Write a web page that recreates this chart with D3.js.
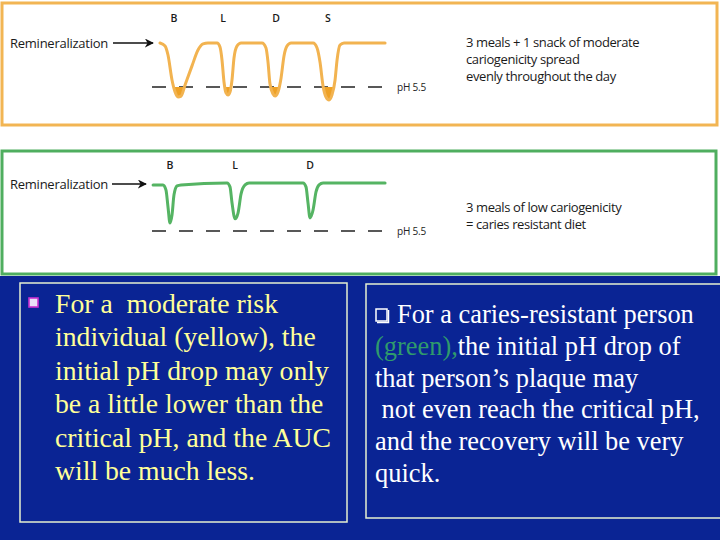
<!DOCTYPE html>
<html>
<head>
<meta charset="utf-8">
<script src="https://cdn.jsdelivr.net/npm/d3@7"></script>
<style>
  body { margin: 0; background: #ffffff; }
  svg { display: block; }
</style>
</head>
<body>
<script>
// pH curves, time in hours from first meal window, pH
const hoursYellow = [0.6, 0.98, 1.2, 1.5, 1.73, 1.95, 2.18, 2.48, 3.0, 3.45, 3.83, 4.2, 4.88,
  5.1, 5.25, 5.4, 5.55, 5.7, 5.85, 6.0, 6.15, 6.38, 6.68, 8.25,
  8.55, 8.7, 8.85, 9.08, 9.23, 9.45, 9.68, 9.9, 10.13, 10.43, 12.08,
  12.38, 12.6, 12.83, 13.05, 13.28, 13.5, 13.73, 13.88, 14.1, 14.4, 17.48];
const phYellow = [7.0, 6.9, 6.59, 5.74, 5.33, 5.16, 5.19, 5.57, 6.22, 6.76, 6.97, 7.0, 7.0,
  6.86, 6.42, 5.67, 5.3, 5.23, 5.33, 5.74, 6.49, 6.9, 7.0, 7.0,
  6.83, 6.35, 5.6, 5.26, 5.19, 5.33, 5.81, 6.56, 6.9, 7.0, 7.0,
  6.83, 6.35, 5.53, 5.16, 5.06, 5.23, 5.74, 6.42, 6.93, 7.0, 7.0];

const hoursGreen = [0.08, 0.83, 1.05, 1.2, 1.35, 1.5, 1.65, 1.88, 2.18, 5.63,
  5.85, 6.0, 6.23, 6.45, 6.68, 6.98, 7.28, 11.33,
  11.55, 11.7, 11.85, 12.08, 12.3, 12.53, 12.83, 17.48];
const phGreen = [6.94, 6.94, 6.78, 6.25, 5.75, 6.0, 6.63, 6.91, 6.94, 7.0,
  6.88, 6.38, 5.88, 6.06, 6.66, 6.94, 7.0, 7.0,
  6.88, 6.38, 5.91, 6.16, 6.72, 6.94, 7.0, 7.0];

const mealsYellow = ["B", "L", "D", "S"];
const mealHoursYellow = [1.65, 5.33, 9.3, 13.2];
const mealsGreen = ["B", "L", "D"];
const mealHoursGreen = [1.35, 6.23, 11.85];

const criticalPH = 5.5;
const restPH = 7.0;
const hourDomain = [0, 18];

const noteYellow = ["3 meals + 1 snack of moderate", "cariogenicity spread", "evenly throughout the day"];
const noteGreen = ["3 meals of low cariogenicity", "= caries resistant diet"];

const leftLines = ["For a  moderate risk", "individual (yellow), the", "initial pH drop may only",
  "be a little lower than the", "critical pH, and the AUC", "will be much less."];
const rightLines = ["For a caries-resistant person", "the initial pH drop of", "that person\u2019s plaque may",
  " not even reach the critical pH,", "and the recovery will be very", "quick."];

const W = 720, H = 540;
const sans = "'Open Sans', sans-serif";
const serif = "'Liberation Serif', 'Times New Roman', serif";

var svg = d3.select("body").append("svg")
            .attr("width", W)
            .attr("height", H);

svg.append("rect").attr("x", 0).attr("y", 0).attr("width", W).attr("height", 276).attr("fill", "#ffffff");
svg.append("rect").attr("x", 0).attr("y", 276).attr("width", W).attr("height", H - 276).attr("fill", "#0a2494");

var defs = svg.append("defs");
defs.append("marker")
    .attr("id", "arrow")
    .attr("viewBox", "0 0 10 10")
    .attr("refX", 9).attr("refY", 5)
    .attr("markerWidth", 9).attr("markerHeight", 9)
    .attr("markerUnits", "userSpaceOnUse")
    .attr("orient", "auto")
  .append("path")
    .attr("d", "M0,0 L10,5 L0,10 L3,5 Z")
    .attr("fill", "#111");

let x = d3.scaleLinear().domain(hourDomain).range([152, 392]);

function draw_panel(cfg) {
  let y = d3.scaleLinear().domain([criticalPH, restPH]).range([cfg.yCrit, cfg.yRest]);
  let g = svg.append("g");

  g.append("rect")
   .attr("x", cfg.box[0]).attr("y", cfg.box[1])
   .attr("width", cfg.box[2]).attr("height", cfg.box[3])
   .attr("fill", "none")
   .attr("stroke", cfg.border)
   .attr("stroke-width", 3);

  g.append("text")
   .attr("x", 10).attr("y", cfg.labelY)
   .attr("font-family", sans).attr("font-size", 13)
   .attr("letter-spacing", -0.25)
   .attr("fill", "#1a1a1a")
   .text("Remineralization");

  g.append("line")
   .attr("x1", cfg.arrow[0]).attr("x2", cfg.arrow[1])
   .attr("y1", cfg.arrowY).attr("y2", cfg.arrowY)
   .attr("stroke", "#111").attr("stroke-width", 1.3)
   .attr("marker-end", "url(#arrow)");

  g.selectAll("text.meal")
   .data(cfg.meals)
   .enter().append("text")
   .attr("class", "meal")
   .attr("x", (d, i) => x(cfg.mealHours[i]))
   .attr("y", cfg.mealY)
   .attr("text-anchor", "middle")
   .attr("font-family", sans).attr("font-size", 10.5).attr("font-weight", 600)
   .attr("fill", "#1a1a1a")
   .text(d => d);

  // critical pH line
  g.append("line")
   .attr("x1", x(hourDomain[0])).attr("x2", x(hourDomain[1]))
   .attr("y1", y(criticalPH)).attr("y2", y(criticalPH))
   .attr("stroke", "#222").attr("stroke-width", 1.3)
   .attr("stroke-dasharray", "14,13");

  g.append("text")
   .attr("x", x(hourDomain[1]) + 5).attr("y", y(criticalPH) + 4)
   .attr("font-family", sans).attr("font-size", 10)
   .attr("letter-spacing", -0.2)
   .attr("fill", "#222")
   .text("pH 5.5");

  let pts = cfg.hours.map((h, i) => [h, cfg.ph[i]]);
  let curve = d3.curveMonotoneX;

  if (cfg.fill) {
    let clipId = "clip-" + cfg.name;
    defs.append("clipPath").attr("id", clipId)
      .append("rect")
      .attr("x", 0).attr("y", y(criticalPH))
      .attr("width", W).attr("height", 60);

    let area = d3.area()
                 .x(d => x(d[0]))
                 .y0(y(criticalPH))
                 .y1(d => y(d[1]))
                 .curve(curve);
    g.append("path")
     .datum(pts)
     .attr("d", area)
     .attr("fill", cfg.fill)
     .attr("clip-path", "url(#" + clipId + ")");
  }

  let line = d3.line()
               .x(d => x(d[0]))
               .y(d => y(d[1]))
               .curve(curve);
  g.append("path")
   .datum(pts)
   .attr("d", line)
   .attr("fill", "none")
   .attr("stroke", cfg.stroke)
   .attr("stroke-width", 3)
   .attr("stroke-linejoin", "round")
   .attr("stroke-linecap", "round");

  g.selectAll("text.note")
   .data(cfg.note)
   .enter().append("text")
   .attr("class", "note")
   .attr("x", 466)
   .attr("y", (d, i) => cfg.noteY + i * 17)
   .attr("font-family", sans).attr("font-size", 13)
   .attr("letter-spacing", -0.4)
   .attr("fill", "#1a1a1a")
   .text(d => d);
}

draw_panel({
  name: "yellow", box: [2, 3, 715, 122], border: "#f2b553",
  yRest: 43, yCrit: 87, labelY: 48, arrow: [113, 153], arrowY: 43, mealY: 22,
  meals: mealsYellow, mealHours: mealHoursYellow,
  hours: hoursYellow, ph: phYellow,
  stroke: "#f2b350", fill: "#eea125",
  note: noteYellow, noteY: 47
});

draw_panel({
  name: "green", box: [2, 151, 714, 123], border: "#4fae5f",
  yRest: 183, yCrit: 231, labelY: 189, arrow: [112, 146], arrowY: 184, mealY: 169,
  meals: mealsGreen, mealHours: mealHoursGreen,
  hours: hoursGreen, ph: phGreen,
  stroke: "#55b463", fill: null,
  note: noteGreen, noteY: 212
});

// lower text boxes
svg.append("rect")
   .attr("x", 20).attr("y", 283).attr("width", 327).attr("height", 239)
   .attr("fill", "none").attr("stroke", "#e6efcf").attr("stroke-width", 1.5);
svg.append("rect")
   .attr("x", 366).attr("y", 284).attr("width", 360).attr("height", 234)
   .attr("fill", "none").attr("stroke", "#e6efcf").attr("stroke-width", 1.5);

// bullets
svg.append("rect").attr("x", 29).attr("y", 298).attr("width", 9).attr("height", 9)
   .attr("fill", "#e8e0f8").attr("stroke", "#c830d0").attr("stroke-width", 1.6);
svg.append("rect").attr("x", 376).attr("y", 309).attr("width", 11).attr("height", 12)
   .attr("fill", "none").attr("stroke", "#ffffff").attr("stroke-width", 1.5);
svg.append("path").attr("d", "M377,322.5 H388.5 V310").attr("fill", "none")
   .attr("stroke", "#ffffff").attr("stroke-width", 1.5);

svg.append("g").selectAll("text")
   .data(leftLines)
   .enter().append("text")
   .attr("x", 55)
   .attr("y", (d, i) => 313 + i * 33.4)
   .attr("font-family", serif).attr("font-size", 27.7)
   .attr("fill", "#ffff99")
   .style("white-space", "pre")
   .text(d => d);

var rt = svg.append("g");
rt.selectAll("text")
  .data(rightLines)
  .enter().append("text")
  .attr("x", (d, i) => i === 0 ? 397 : 375)
  .attr("y", (d, i) => 323 + i * 31.8)
  .attr("font-family", serif).attr("font-size", 26.4)
  .attr("fill", "#ffffff")
  .style("white-space", "pre")
  .each(function(d, i) {
    let t = d3.select(this);
    if (i === 1) {
      t.append("tspan").attr("fill", "#2f9a6c").text("(green),");
      t.append("tspan").text(d);
    } else {
      t.text(d);
    }
  });
</script>
</body>
</html>
